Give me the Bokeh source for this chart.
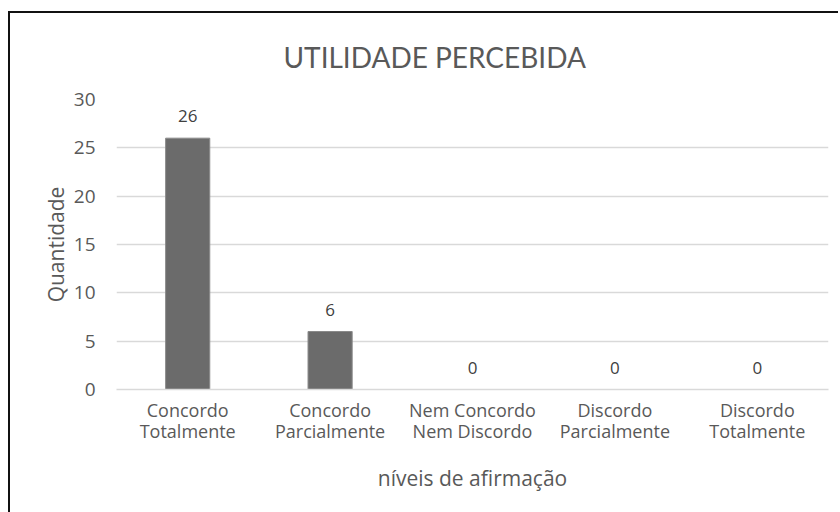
from bokeh.plotting import figure
from bokeh.models import ColumnDataSource, LabelSet, SingleIntervalTicker
from bokeh.core.properties import value
from bokeh.embed import file_html
from bokeh.resources import INLINE

categories = ["Concordo\nTotalmente", "Concordo\nParcialmente", "Nem Concordo\nNem Discordo",
              "Discordo\nParcialmente", "Discordo\nTotalmente"]
values = [26, 6, 0, 0, 0]
labels = [str(v) for v in values]

FONT = "Open Sans"
TFONT = "Lato"
TXT = "#595959"

src = ColumnDataSource(dict(cat=categories, val=values, lab=labels))

p = figure(x_range=categories, y_range=(0, 30), width=830, height=501,
           output_backend="svg", toolbar_location=None,
           min_border_left=108, min_border_right=10, min_border_top=88, min_border_bottom=123)

p.styles = {"margin-left": "8px", "margin-top": "11px",
            "box-shadow": "inset 2px 2px 0 0 #111", "background-color": "#ffffff"}
p.border_fill_alpha = 0
p.background_fill_color = "#ffffff"

p.title.text = "UTILIDADE PERCEBIDA"
p.title.align = "left"
p.title.text_font = TFONT
p.title.text_font_style = "normal"
p.title.text_font_size = "28px"
p.title.text_line_height = 0.8
p.title.text_color = TXT
p.title.offset = 167
p.title.standoff = 51

p.vbar(x="cat", top="val", width=0.31, source=src, fill_color="#6b6b6b", line_color="#8a8a8a", line_width=1)

p.add_layout(LabelSet(x="cat", y="val", text="lab", source=src, text_align="center",
                      text_baseline="bottom", y_offset=16, text_font=value(FONT),
                      text_font_size=value("17px"), text_color="#404040"))

p.outline_line_color = None
p.xgrid.grid_line_color = None
p.ygrid.grid_line_color = "#d9d9d9"
p.ygrid.grid_line_width = 1.5
p.yaxis.ticker = SingleIntervalTicker(interval=5)

for ax in (p.xaxis, p.yaxis):
    ax.major_label_text_font = FONT
    ax.major_label_text_color = TXT
    ax.axis_label_text_font = FONT
    ax.axis_label_text_font_size = "21px"
    ax.axis_label_text_color = TXT
    ax.axis_label_text_font_style = "normal"
    ax.major_tick_line_color = None
    ax.minor_tick_line_color = None

p.yaxis.major_label_text_font_size = "19px"
p.xaxis.major_label_text_font_size = "18px"
p.xaxis.major_label_text_line_height = 0.9
p.yaxis.axis_line_color = None
p.xaxis.axis_line_color = "#d9d9d9"
p.xaxis.axis_line_width = 1.5
p.yaxis.axis_label = "Quantidade"
p.xaxis.axis_label = "níveis de afirmação"
p.yaxis.major_label_standoff = 15
p.xaxis.major_label_standoff = 2
p.xaxis.axis_label_standoff = 18
p.yaxis.axis_label_standoff = 1

open("out.html", "w").write(file_html(p, INLINE))
